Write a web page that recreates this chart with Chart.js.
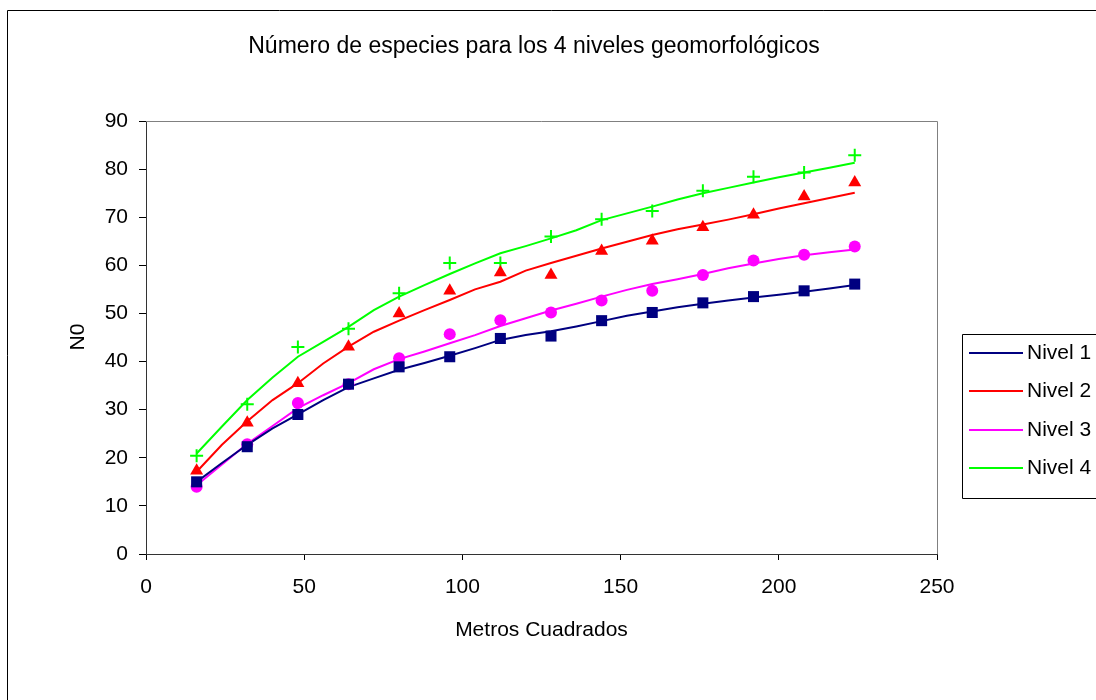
<!DOCTYPE html>
<html>
<head>
<meta charset="utf-8">
<script src="https://cdn.jsdelivr.net/npm/chart.js@4.4.1/dist/chart.umd.min.js"></script>
<style>
html,body{margin:0;padding:0;background:#fff;}
#wrap{width:1096px;height:700px;position:relative;}
</style>
</head>
<body>
<div id="wrap"><canvas id="c" width="1096" height="700"></canvas></div>
<script>
// ---- data ----
const chartTitle = "Número de especies para los 4 niveles geomorfológicos";
const xTitle = "Metros Cuadrados";
const yTitle = "N0";
const seriesNames = ["Nivel 1", "Nivel 2", "Nivel 3", "Nivel 4"];
const seriesColors = ["#000080", "#FF0000", "#FF00FF", "#00FF00"];

// observed points (markers)
const xObs = [16, 32, 48, 64, 80, 96, 112, 128, 144, 160, 176, 192, 208, 224];
const obsNivel1 = [15.0, 22.3, 29.0, 35.3, 38.9, 41.0, 44.8, 45.3, 48.5, 50.2, 52.2, 53.5, 54.7, 56.1];
const obsNivel2 = [17.3, 27.3, 35.5, 43.1, 50.0, 54.7, 58.5, 58.0, 63.0, 65.1, 67.9, 70.5, 74.3, 77.2];
const obsNivel3 = [14.0, 22.8, 31.4, 35.3, 40.7, 45.7, 48.6, 50.2, 52.7, 54.7, 58.0, 61.0, 62.2, 63.9];
const obsNivel4 = [20.4, 31.1, 43.0, 46.8, 54.2, 60.5, 60.5, 66.0, 69.6, 71.3, 75.5, 78.4, 79.3, 82.9];

// fitted curves (lines)
const xFit = [16, 24, 32, 40, 48, 56, 64, 72, 80, 88, 96, 104, 112, 120, 128, 136, 144, 152, 160, 168, 176, 184, 192, 200, 208, 216, 224];
const fitNivel1 = [15.0, 18.9, 22.7, 26.1, 29.0, 32.0, 34.7, 36.5, 38.3, 39.7, 41.2, 42.8, 44.5, 45.5, 46.3, 47.3, 48.4, 49.5, 50.4, 51.3, 52.0, 52.7, 53.3, 53.9, 54.5, 55.2, 55.9];
const fitNivel2 = [17.1, 22.7, 27.6, 32.0, 35.5, 39.6, 43.1, 46.2, 48.5, 50.7, 52.8, 55.0, 56.6, 58.9, 60.5, 62.0, 63.5, 64.9, 66.3, 67.5, 68.5, 69.5, 70.6, 71.8, 72.9, 74.0, 75.1];
const fitNivel3 = [14.3, 18.6, 22.9, 26.6, 30.3, 33.0, 35.5, 38.4, 40.5, 42.1, 43.8, 45.5, 47.4, 49.0, 50.6, 52.0, 53.5, 54.9, 56.1, 57.1, 58.2, 59.4, 60.4, 61.3, 62.1, 62.7, 63.3];
const fitNivel4 = [20.9, 26.5, 32.0, 36.7, 41.0, 44.1, 47.2, 50.7, 53.5, 55.9, 58.2, 60.4, 62.5, 64.0, 65.6, 67.3, 69.4, 70.8, 72.2, 73.7, 75.0, 76.1, 77.2, 78.3, 79.3, 80.3, 81.3];

const xMin = 0, xMax = 250, xStep = 50;
const yMin = 0, yMax = 90, yStep = 10;

// ---- build ----
const FONT = "'Liberation Sans', Arial, sans-serif";
const FS = 21;
function pts(xs, ys){ return xs.map((x,i)=>({x:x, y:ys[i]})); }
const obs = [obsNivel1, obsNivel2, obsNivel3, obsNivel4];
const fits = [fitNivel1, fitNivel2, fitNivel3, fitNivel4];
const markerStyle = [
  {pointStyle:'rect', radius:7.8, bw:0},
  {pointStyle:'triangle', radius:7.5, bw:0},
  {pointStyle:'circle', radius:6, bw:0},
  {pointStyle:'cross', radius:6.5, bw:2}
];

const datasets = [];
for (let i=0;i<4;i++){
  datasets.push({
    label: seriesNames[i],
    data: pts(xFit, fits[i]),
    showLine: true,
    borderColor: seriesColors[i],
    borderWidth: 2,
    pointRadius: 0,
    pointHoverRadius: 0,
    fill: false,
    tension: 0,
    order: 2
  });
}
for (let i=0;i<4;i++){
  const m = markerStyle[i];
  datasets.push({
    label: seriesNames[i] + " obs",
    data: pts(xObs, obs[i]),
    showLine: false,
    pointStyle: m.pointStyle,
    pointRadius: m.radius,
    pointHoverRadius: m.radius,
    backgroundColor: seriesColors[i],
    borderColor: seriesColors[i],
    pointBorderWidth: m.bw,
    borderWidth: m.bw,
    order: 1
  });
}

const decor = {
  id: 'decor',
  afterDraw(chart){
    const ctx = chart.ctx;
    const a = chart.chartArea;
    ctx.save();
    // outer chart border
    ctx.strokeStyle = '#000';
    ctx.lineWidth = 1;
    ctx.beginPath();
    ctx.moveTo(7.5, 700); ctx.lineTo(7.5, 10.5); ctx.lineTo(1096, 10.5);
    ctx.stroke();
    // plot area top/right border
    ctx.strokeStyle = '#808080';
    ctx.beginPath();
    ctx.moveTo(a.left, a.top + 0.5); ctx.lineTo(a.right + 0.5, a.top + 0.5); ctx.lineTo(a.right + 0.5, a.bottom);
    ctx.stroke();
    // title
    ctx.fillStyle = '#000';
    ctx.font = '23px ' + FONT;
    ctx.textAlign = 'center';
    ctx.textBaseline = 'middle';
    ctx.fillText(chartTitle, 534, 47);
    ctx.font = FS + 'px ' + FONT;
    // x title
    ctx.fillText(xTitle, (a.left + a.right)/2, 630);
    // y title
    ctx.save();
    ctx.translate(78, 337);
    ctx.rotate(-Math.PI/2);
    ctx.fillText(yTitle, 0, 0);
    ctx.restore();
    // legend
    ctx.strokeStyle = '#000';
    ctx.lineWidth = 1;
    ctx.beginPath();
    ctx.moveTo(1100, 334.5); ctx.lineTo(962.5, 334.5); ctx.lineTo(962.5, 498.5); ctx.lineTo(1100, 498.5);
    ctx.stroke();
    const rows = [353, 391, 430, 468];
    ctx.textAlign = 'left';
    for (let i=0;i<4;i++){
      ctx.strokeStyle = seriesColors[i];
      ctx.lineWidth = 2;
      ctx.beginPath();
      ctx.moveTo(969, rows[i]); ctx.lineTo(1023, rows[i]);
      ctx.stroke();
      ctx.fillStyle = '#000';
      ctx.fillText(seriesNames[i], 1027, rows[i]);
    }
    ctx.restore();
  }
};

new Chart(document.getElementById('c'), {
  type: 'scatter',
  data: { datasets },
  options: {
    responsive: false,
    animation: false,
    events: [],
    layout: { padding: { left: 0, top: 121, right: 159, bottom: 0 } },
    plugins: { legend: { display: false }, tooltip: { enabled: false }, title: { display: false } },
    scales: {
      x: {
        type: 'linear', min: xMin, max: xMax,
        ticks: { stepSize: xStep, color: '#000', font: { family: FONT, size: FS }, padding: 15, maxRotation: 0 },
        grid: { drawOnChartArea: false, drawTicks: true, tickLength: 6, color: '#000' },
        border: { color: '#333', width: 1 },
        afterFit(s){ s.height = 146; }
      },
      y: {
        type: 'linear', min: yMin, max: yMax,
        ticks: { stepSize: yStep, color: '#000', font: { family: FONT, size: FS }, padding: 11 },
        grid: { drawOnChartArea: false, drawTicks: true, tickLength: 7, color: '#000' },
        border: { color: '#333', width: 1 },
        afterFit(s){ s.width = 146; }
      }
    }
  },
  plugins: [decor]
});
</script>
</body>
</html>
